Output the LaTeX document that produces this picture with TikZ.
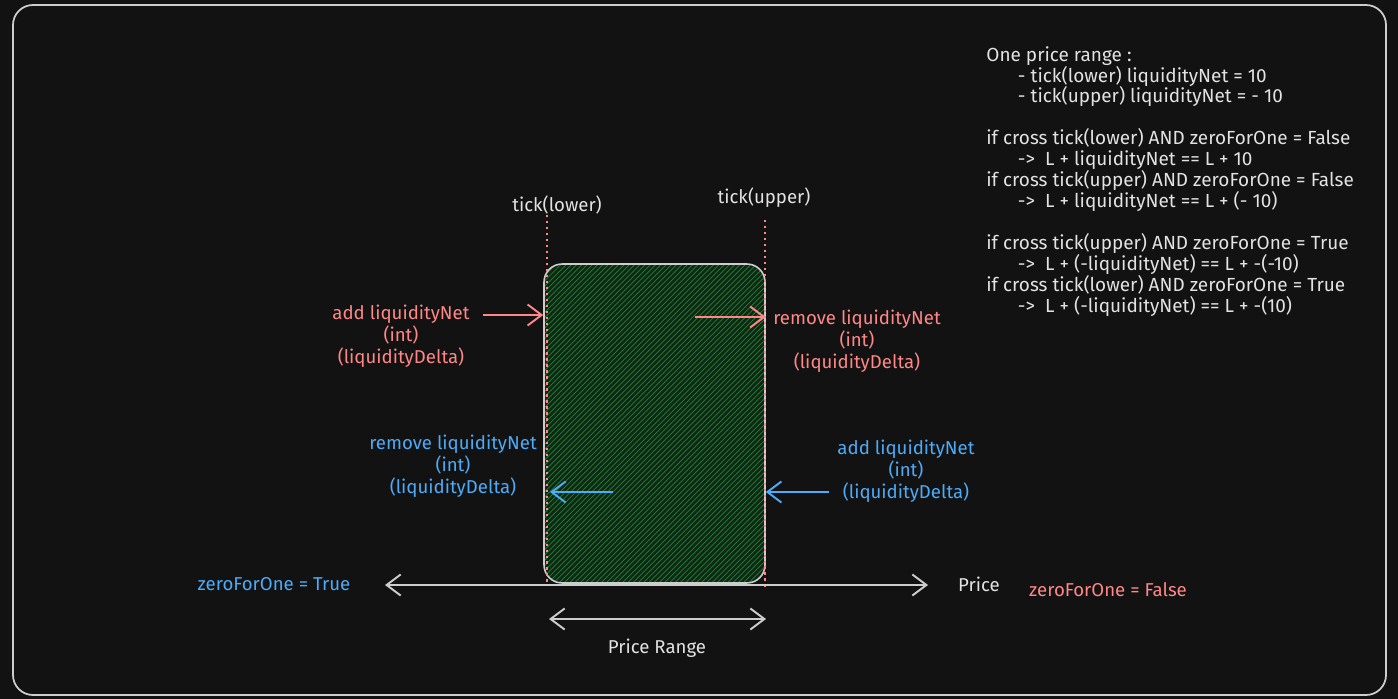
\documentclass[tikz,border=0pt]{standalone}
\usepackage{fontspec}
\setmainfont{Fira Sans}
\usepackage{tikz}
\usetikzlibrary{arrows.meta, positioning, patterns}
\usepackage{xcolor}
\definecolor{bgdark}{RGB}{18,18,18}
\definecolor{framegray}{RGB}{205,205,205}
\definecolor{inkwhite}{RGB}{226,226,226}
\definecolor{softred}{RGB}{255,135,135}
\definecolor{softblue}{RGB}{77,171,247}
\definecolor{hatchgreen}{RGB}{36,128,56}
\definecolor{deepgreen}{RGB}{14,40,20}

\begin{document}
\begin{tikzpicture}[x=0.02cm, y=-0.02cm,
  note/.style={font=\fontsize{10.6}{12.4}\selectfont, inner sep=0pt, align=center, text=inkwhite},
  chev/.style={-{Straight Barb[length=8pt,width=12pt]}, line width=1.1pt},
  twochev/.style={{Straight Barb[length=8pt,width=12pt]}-{Straight Barb[length=8pt,width=12pt]}, line width=1.1pt, framegray},
  tickline/.style={softred, line width=0.8pt, dash pattern=on 1.4pt off 2pt}]
  \fill[bgdark] (0,0) rectangle (1398,699);
  \draw[framegray, line width=1pt, rounded corners=0.4cm] (13,5) rectangle (1386,695);

  \node[draw=framegray, line width=0.9pt, rounded corners=0.36cm, minimum width=4.42cm, minimum height=6.38cm,
        preaction={fill=deepgreen}, pattern=north east lines, pattern color=hatchgreen] (range) at (654.5,423.5) {};

  \node[note] (lowtick) at (557,205) {tick(lower)};
  \node[note] (uptick) at (764,198) {tick(upper)};
  \draw[tickline] (547,215) -- (547,583);
  \draw[tickline] (765,220) -- (765,588);

  \node[note, text=softred] (addred) at (401,336) {add liquidityNet\\(int)\\(liquidityDelta)};
  \node[note, text=softred] (remred) at (857,341) {remove liquidityNet\\(int)\\(liquidityDelta)};
  \node[note, text=softblue] (remblue) at (453,466) {remove liquidityNet\\(int)\\(liquidityDelta)};
  \node[note, text=softblue] (addblue) at (906,471) {add liquidityNet\\(int)\\(liquidityDelta)};

  \coordinate (inlow) at (483,315);
  \coordinate (inup) at (695,317);
  \coordinate (outlow) at (613,492);
  \coordinate (outup) at (829,492);
  \draw[chev, softred] (inlow) -- (inlow -| range.west);
  \draw[chev, softred] (inup) -- (inup -| range.east);
  \draw[chev, softblue] (outlow) -- (550,492);
  \draw[chev, softblue] (outup) -- (outup -| range.east);

  \coordinate (axleft) at (385,585);
  \coordinate (axright) at (928,585);
  \draw[twochev] (axleft) -- (axright);
  \node[note] (price) at (979,584) {Price};
  \node[note, text=softblue] (zfotrue) at (274,584) {zeroForOne = True};
  \node[note, text=softred] (zfofalse) at (1108,590) {zeroForOne = False};

  \coordinate (rgleft) at (549,619);
  \coordinate (rgright) at (766,619);
  \draw[twochev] (rgleft) -- (rgright);
  \node[note] (rangelbl) at (657,648) {Price Range};

  \node[note, font=\fontsize{10.8}{11.9}\selectfont, align=left, anchor=north west] (rules) at (986,46) {%
    One price range :\\
    \hspace*{18pt}- tick(lower) liquidityNet = 10\\
    \hspace*{18pt}- tick(upper) liquidityNet = - 10\\[11.9pt]
    if cross tick(lower) AND zeroForOne = False\\
    \hspace*{18pt}->\ \ L + liquidityNet == L + 10\\
    if cross tick(upper) AND zeroForOne = False\\
    \hspace*{18pt}->\ \ L + liquidityNet == L + (- 10)\\[11.9pt]
    if cross tick(upper) AND zeroForOne = True\\
    \hspace*{18pt}->\ \ L + (-liquidityNet) == L + -(-10)\\
    if cross tick(lower) AND zeroForOne = True\\
    \hspace*{18pt}->\ \ L + (-liquidityNet) == L + -(10)};
\end{tikzpicture}
\end{document}
